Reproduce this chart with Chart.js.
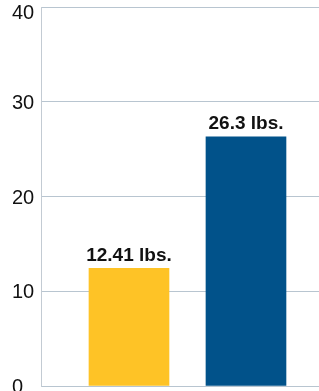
<!DOCTYPE html>
<html>
<head>
<meta charset="utf-8">
<script src="https://cdn.jsdelivr.net/npm/chart.js@4/dist/chart.umd.min.js"></script>
<style>
  html, body { margin: 0; padding: 0; background: #ffffff; }
  canvas { display: block; }
</style>
</head>
<body>
<canvas id="c" width="319" height="391"></canvas>
<script>
const categories = ['Bar 1', 'Bar 2'];
const values = [12.41, 26.3];
const valueLabels = ['12.41 lbs.', '26.3 lbs.'];
const barColors = ['#fec326', '#01528a'];
const yTickLabels = ['0', '10', '20', '30', '40'];

const FONT = '"Liberation Sans", Arial, Helvetica, sans-serif';

const labelPlugin = {
  id: 'customLabels',
  afterDraw(chart) {
    const ctx = chart.ctx;
    const ys = chart.scales.y;
    ctx.save();
    ctx.fillStyle = '#111111';
    ctx.font = '20px ' + FONT;
    ctx.textAlign = 'left';
    ctx.textBaseline = 'alphabetic';
    yTickLabels.forEach(t => {
      const py = ys.getPixelForValue(Number(t));
      ctx.fillText(t, 12, Math.max(py + 7, 19));
    });
    const meta = chart.getDatasetMeta(0);
    ctx.font = 'bold 19px ' + FONT;
    ctx.textAlign = 'center';
    meta.data.forEach((bar, i) => {
      ctx.fillText(valueLabels[i], bar.x, bar.y - 7.5);
    });
    ctx.restore();
  }
};

new Chart(document.getElementById('c'), {
  type: 'bar',
  data: {
    datasets: [{
      label: 'Weight',
      data: categories.map((c, i) => ({ x: i, y: values[i] })),
      backgroundColor: barColors,
      borderWidth: 0,
      barThickness: 80
    }]
  },
  options: {
    responsive: false,
    devicePixelRatio: 1,
    animation: false,
    layout: { padding: { left: 41, top: 7, right: 0, bottom: 5 } },
    plugins: { legend: { display: false }, tooltip: { enabled: false } },
    scales: {
      x: {
        type: 'linear',
        display: false,
        min: -0.752,
        max: 1.624,
        offset: false
      },
      y: {
        min: 0,
        max: 40,
        ticks: { display: false, stepSize: 10 },
        grid: { color: '#b8c5d0', lineWidth: 1, drawTicks: false },
        border: { display: true, color: '#c3cbd3', width: 1 }
      }
    }
  },
  plugins: [labelPlugin]
});
</script>
</body>
</html>
